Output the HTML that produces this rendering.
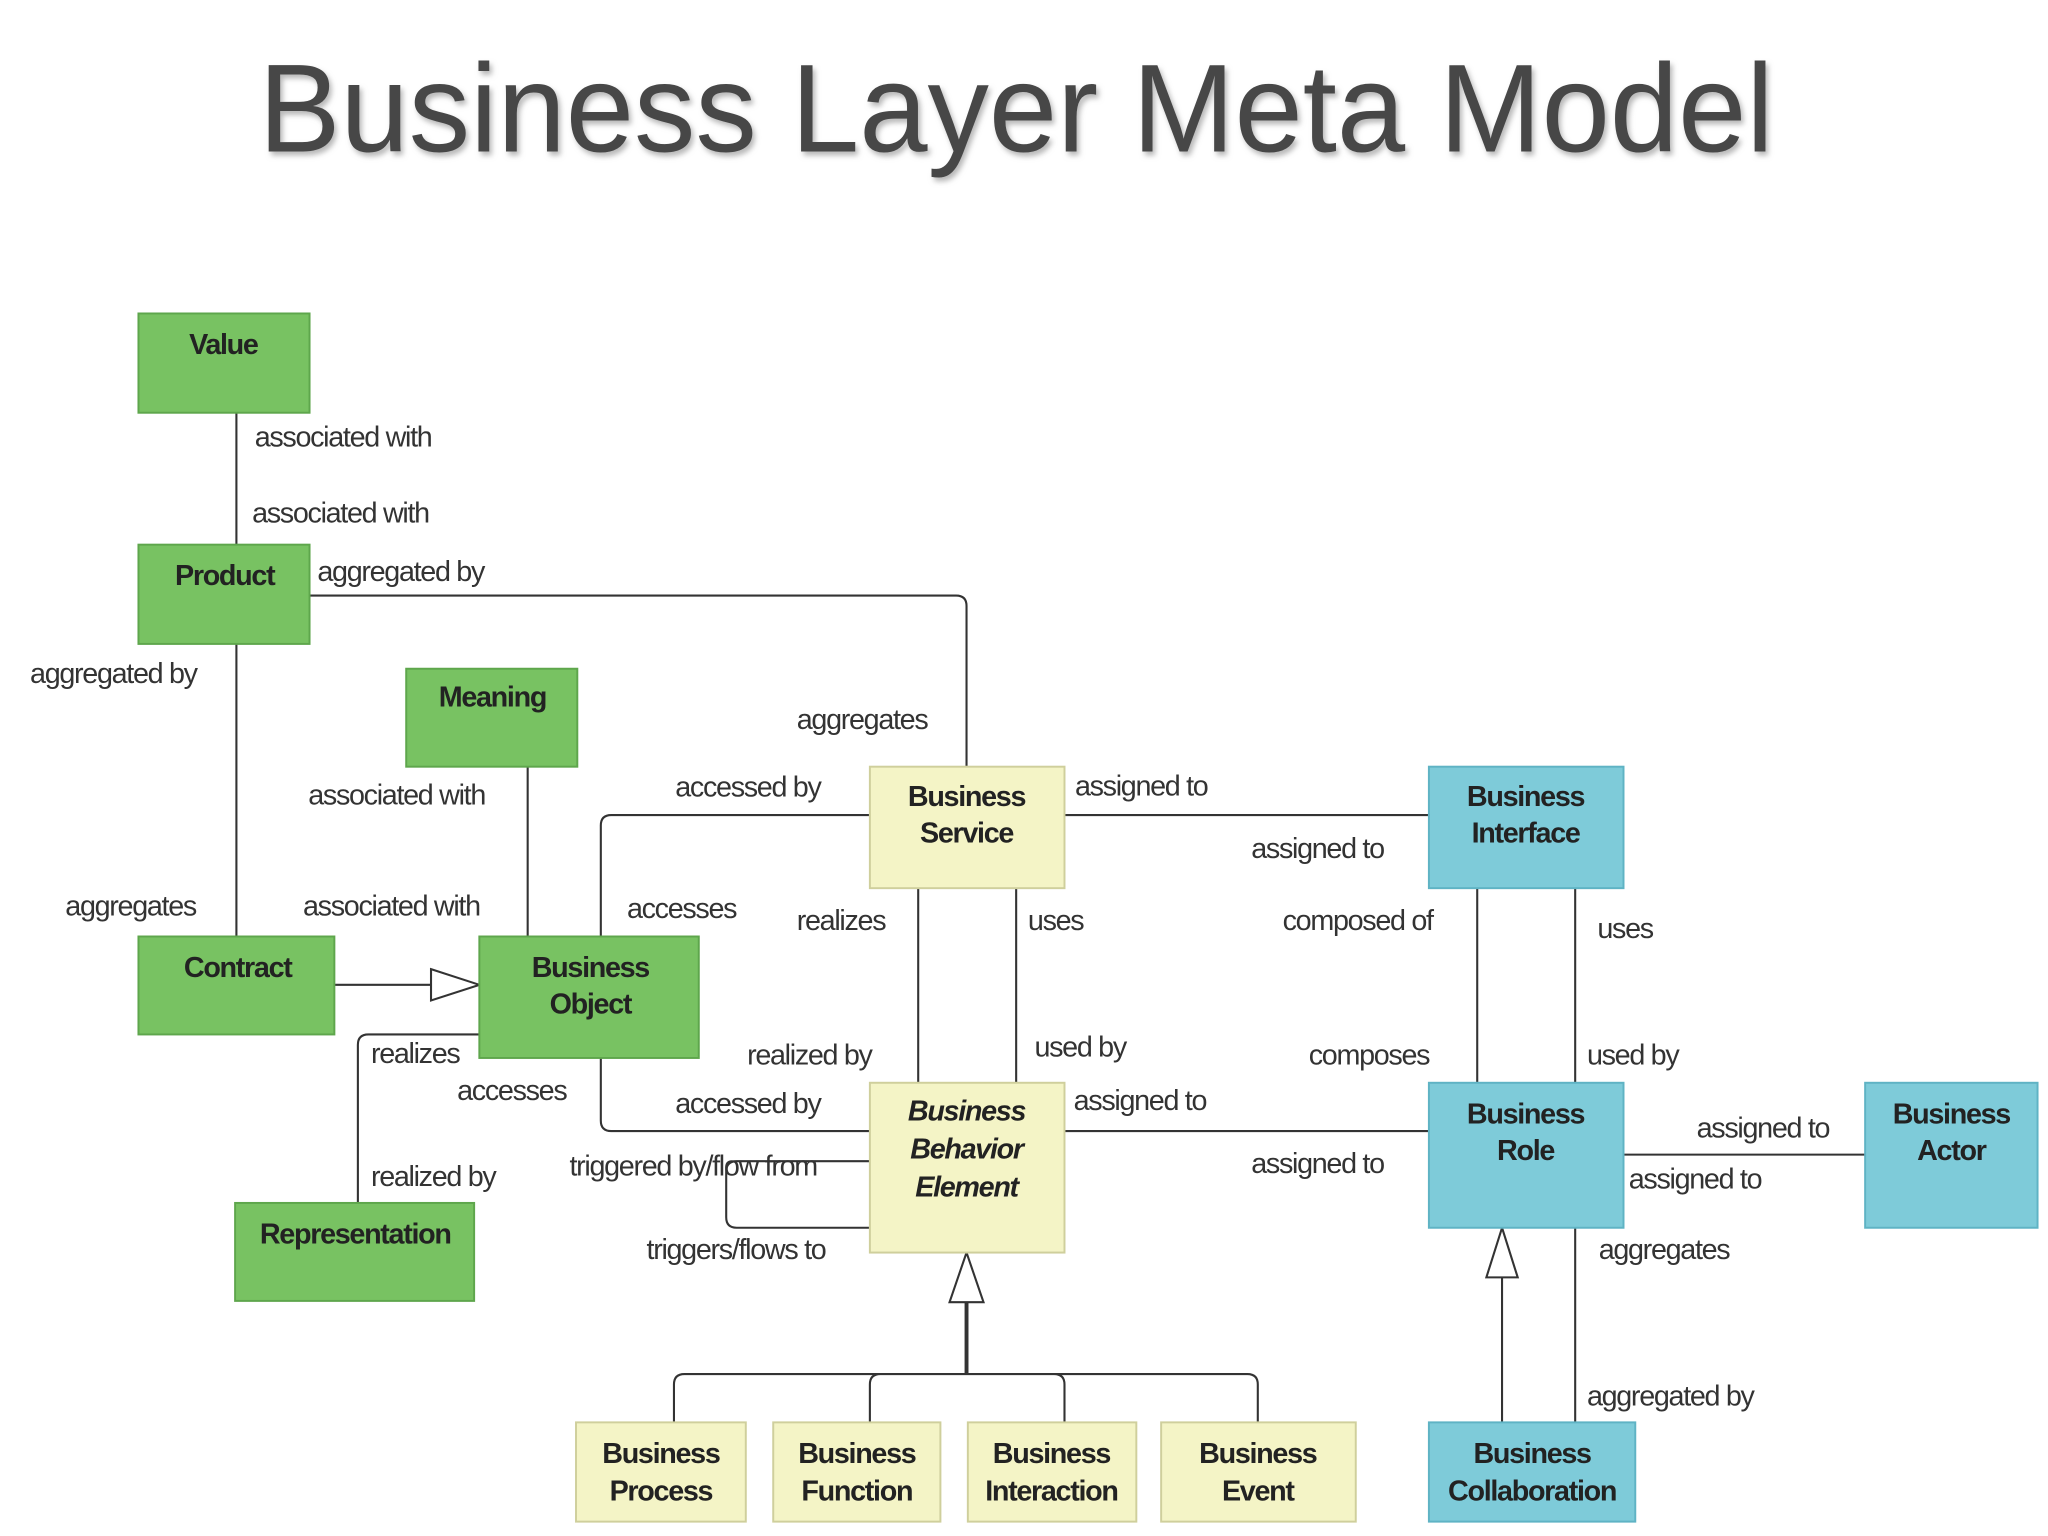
<!DOCTYPE html>
<html><head><meta charset="utf-8"><style>
html,body{margin:0;padding:0;background:#fff;}
svg{display:block}
.l{font-family:"Liberation Sans",sans-serif;font-size:22px;fill:#333;letter-spacing:-1px}
.b{font-family:"Liberation Sans",sans-serif;font-size:22px;font-weight:bold;fill:#222;letter-spacing:-1px;text-anchor:middle}
.g{fill:#78c262;stroke:#5ea64c;stroke-width:1.5}
.y{fill:#f4f4c6;stroke:#cfcf9c;stroke-width:1.5}
.c{fill:#7ecbd9;stroke:#5fb3c4;stroke-width:1.5}
.ln{fill:none;stroke:#333;stroke-width:1.6}
</style></head><body>
<svg width="2048" height="1536" viewBox="0 0 1568 1176" xmlns="http://www.w3.org/2000/svg">
<defs><filter id="sh"><feDropShadow dx="2" dy="3" stdDeviation="2" flood-color="#999" flood-opacity="0.7"/></filter></defs>
<text x="778" y="116" text-anchor="middle" textLength="1160" lengthAdjust="spacingAndGlyphs" font-family="Liberation Sans,sans-serif" font-size="96" fill="#474747" filter="url(#sh)">Business Layer Meta Model</text>

<!-- connectors -->
<g class="ln">
<path d="M181 316V417M181 493V717"/>
<path d="M237 456H732Q740 456 740 464V587"/>
<path d="M404 587V717"/>
<path d="M256 754H330"/>
<path d="M666 624H468Q460 624 460 632V717"/>
<path d="M460 810V858Q460 866 468 866H666"/>
<path d="M274 921V800Q274 792 282 792H367"/>
<path d="M703 680V829M778 680V829"/>
<path d="M815 624H1094M815 866H1094"/>
<path d="M1131 680V829M1206 680V829"/>
<path d="M1243 884H1428"/>
<path d="M1150 978V1089M1206 940V1089"/>
<path d="M666 889H564Q556 889 556 897V932Q556 940 564 940H666"/>
<path d="M740 997V1052" style="stroke-width:3"/>
<path d="M516 1089V1060Q516 1052 524 1052H955Q963 1052 963 1060V1089M666 1089V1060Q666 1052 674 1052M815 1089V1060Q815 1052 807 1052"/>
</g>
<polygon points="330,742 367,754 330,766" fill="#fff" stroke="#333" stroke-width="1.6"/>
<polygon points="740,959 727,997 753,997" fill="#fff" stroke="#333" stroke-width="1.6"/>
<polygon points="1150,940 1138,978 1162,978" fill="#fff" stroke="#333" stroke-width="1.6"/>

<!-- boxes -->
<rect class="g" x="106" y="240" width="131" height="76"/>
<rect class="g" x="106" y="417" width="131" height="76"/>
<rect class="g" x="311" y="512" width="131" height="75"/>
<rect class="g" x="106" y="717" width="150" height="75"/>
<rect class="g" x="367" y="717" width="168" height="93"/>
<rect class="g" x="180" y="921" width="183" height="75"/>
<rect class="y" x="666" y="587" width="149" height="93"/>
<rect class="c" x="1094" y="587" width="149" height="93"/>
<rect class="y" x="666" y="829" width="149" height="130"/>
<rect class="c" x="1094" y="829" width="149" height="111"/>
<rect class="c" x="1428" y="829" width="132" height="111"/>
<rect class="y" x="441" y="1089" width="130" height="76"/>
<rect class="y" x="592" y="1089" width="128" height="76"/>
<rect class="y" x="741" y="1089" width="129" height="76"/>
<rect class="y" x="889" y="1089" width="149" height="76"/>
<rect class="c" x="1094" y="1089" width="158" height="76"/>

<text class="b" x="171" y="271">Value</text>
<text class="b" x="172" y="448">Product</text>
<text class="b" x="377" y="541">Meaning</text>
<text class="b" x="182" y="748">Contract</text>
<text class="b" x="452" y="748">Business</text><text class="b" x="452" y="776">Object</text>
<text class="b" x="272" y="952">Representation</text>
<text class="b" x="740" y="617">Business</text><text class="b" x="740" y="645">Service</text>
<text class="b" x="1168" y="617">Business</text><text class="b" x="1168" y="645">Interface</text>
<text class="b" x="740" y="858" font-style="italic">Business</text><text class="b" x="740" y="887" font-style="italic">Behavior</text><text class="b" x="740" y="916" font-style="italic">Element</text>
<text class="b" x="1168" y="860">Business</text><text class="b" x="1168" y="888">Role</text>
<text class="b" x="1494" y="860">Business</text><text class="b" x="1494" y="888">Actor</text>
<text class="b" x="506" y="1120">Business</text><text class="b" x="506" y="1149">Process</text>
<text class="b" x="656" y="1120">Business</text><text class="b" x="656" y="1149">Function</text>
<text class="b" x="805" y="1120">Business</text><text class="b" x="805" y="1149">Interaction</text>
<text class="b" x="963" y="1120">Business</text><text class="b" x="963" y="1149">Event</text>
<text class="b" x="1173" y="1120">Business</text><text class="b" x="1173" y="1149">Collaboration</text>

<!-- labels -->
<text class="l" x="195" y="342">associated with</text>
<text class="l" x="193" y="400">associated with</text>
<text class="l" x="243" y="445">aggregated by</text>
<text class="l" x="23" y="523">aggregated by</text>
<text class="l" x="610" y="558">aggregates</text>
<text class="l" x="236" y="616">associated with</text>
<text class="l" x="517" y="610">accessed by</text>
<text class="l" x="823" y="609">assigned to</text>
<text class="l" x="958" y="657">assigned to</text>
<text class="l" x="50" y="701">aggregates</text>
<text class="l" x="232" y="701">associated with</text>
<text class="l" x="480" y="703">accesses</text>
<text class="l" x="610" y="712">realizes</text>
<text class="l" x="787" y="712">uses</text>
<text class="l" x="982" y="712">composed of</text>
<text class="l" x="1223" y="718">uses</text>
<text class="l" x="284" y="814">realizes</text>
<text class="l" x="572" y="815">realized by</text>
<text class="l" x="792" y="809">used by</text>
<text class="l" x="1002" y="815">composes</text>
<text class="l" x="1215" y="815">used by</text>
<text class="l" x="350" y="842">accesses</text>
<text class="l" x="517" y="852">accessed by</text>
<text class="l" x="822" y="850">assigned to</text>
<text class="l" x="1299" y="871">assigned to</text>
<text class="l" x="436" y="900">triggered by/flow from</text>
<text class="l" x="284" y="908">realized by</text>
<text class="l" x="958" y="898">assigned to</text>
<text class="l" x="1247" y="910">assigned to</text>
<text class="l" x="495" y="964">triggers/flows to</text>
<text class="l" x="1224" y="964">aggregates</text>
<text class="l" x="1215" y="1076">aggregated by</text>
</svg>
</body></html>
